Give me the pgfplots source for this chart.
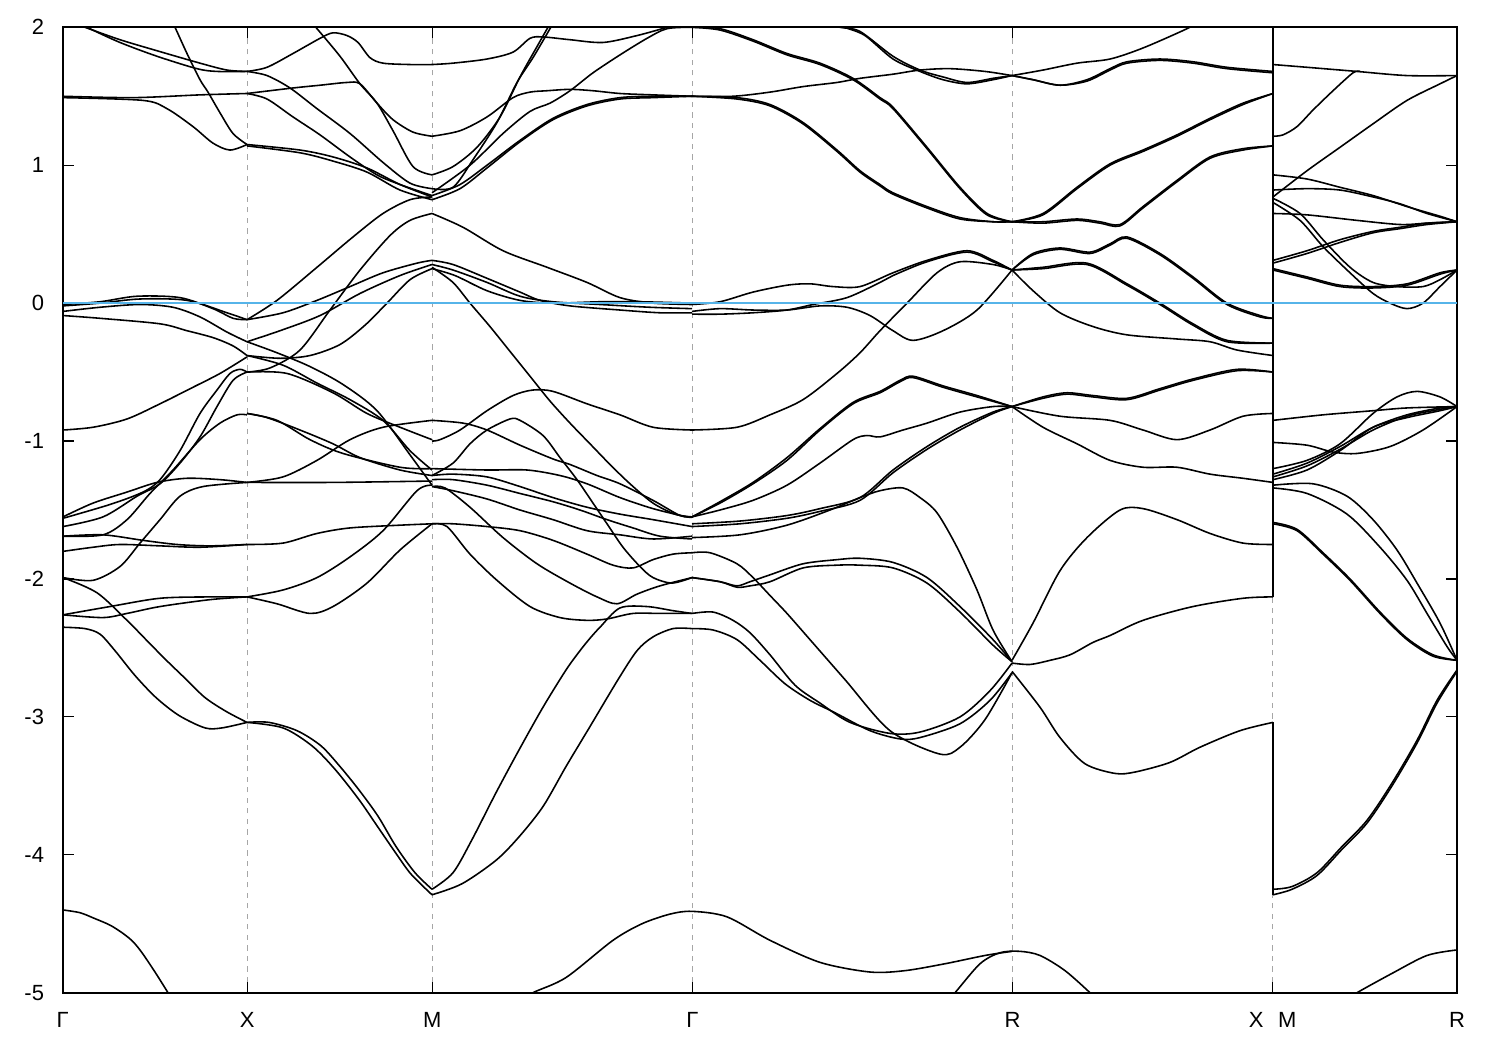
\documentclass[border=0pt]{standalone}
\usepackage{fontspec}
\setmainfont{Liberation Sans}
\usepackage{pgfplots}
\pgfplotsset{compat=1.18}
\definecolor{fermi}{RGB}{86,180,233}
\pgfplotsset{band/.style={black, line width=0.9pt, smooth, tension=0.5, no markers}}
\begin{document}
\begin{tikzpicture}
\useasboundingbox (-12.54mm,-11.46mm) rectangle (287.46mm,198.54mm);
\begin{axis}[
  at={(0,0)}, anchor=south west,
  width=278.86mm, height=193.08mm, scale only axis,
  xmin=62.7, xmax=1457, ymin=-5, ymax=2,
  xtick={62.7,247.3,432.3,692.5,1012.5,1272.7,1457},
  xticklabels={Γ,X,M,Γ,R,X\hspace{2.9mm}M,R},
  ytick={-5,-4,-3,-2,-1,0,1,2},
  yticklabels={-5,-4,-3,-2,-1,0,1,2},
  tick align=inside,
  major tick length=2.2mm,
  xmajorgrids,
  grid style={dashed, gray!70, line width=0.5pt},
  axis line style={line width=1.2pt},
  every tick/.style={black, line width=0.7pt},
  ticklabel style={font=\fontsize{12.5}{14}\selectfont},
  yticklabel style={xshift=-2.5mm},
  xticklabel style={yshift=-2.6mm},
  clip=true,
]
% ---------------- Gamma - X ----------------
\addplot[band] coordinates {(78,2.02)(85,2.00)(120,1.91)(157,1.83)(200,1.74)(227,1.69)(247,1.68)};
\addplot[band] coordinates {(84,2.02)(90,1.99)(120,1.89)(157,1.79)(197,1.70)(217,1.68)(247,1.68)};
\addplot[band] coordinates {(173,2.02)(175,2.00)(187,1.81)(200,1.62)(208,1.53)(220,1.38)(233,1.23)(247,1.15)};
\addplot[band] coordinates {(63,1.50)(133,1.49)(200,1.51)(247,1.52)};
\addplot[band] coordinates {(63,1.49)(143,1.47)(167,1.41)(193,1.28)(213,1.16)(230,1.11)(247,1.15)};
\addplot[band] coordinates {(63,-0.01)(100,0.01)(137,0.05)(180,0.04)(213,-0.04)(233,-0.11)(247,-0.12)};
\addplot[band] coordinates {(63,-0.02)(100,0.00)(140,0.03)(187,0.02)(227,-0.07)(247,-0.12)};
\addplot[band] coordinates {(63,-0.06)(100,-0.03)(140,-0.01)(173,-0.03)(200,-0.10)(227,-0.21)(247,-0.28)};
\addplot[band] coordinates {(63,-0.09)(100,-0.11)(160,-0.15)(187,-0.20)(213,-0.25)(233,-0.31)(247,-0.38)};
\addplot[band] coordinates {(63,-0.92)(93,-0.90)(127,-0.84)(160,-0.73)(193,-0.61)(220,-0.51)(247,-0.39)};
\addplot[band] coordinates {(63,-1.55)(93,-1.45)(127,-1.37)(157,-1.30)(187,-1.27)(220,-1.28)(247,-1.30)};
\addplot[band] coordinates {(63,-1.56)(110,-1.46)(143,-1.37)(160,-1.28)(180,-1.07)(200,-0.80)(217,-0.63)(230,-0.51)(240,-0.48)(247,-0.50)};
\addplot[band] coordinates {(63,-1.62)(103,-1.55)(137,-1.40)(160,-1.31)(180,-1.16)(200,-0.97)(217,-0.75)(233,-0.56)(247,-0.50)};
\addplot[band] coordinates {(63,-1.69)(103,-1.68)(127,-1.57)(150,-1.38)(173,-1.21)(200,-0.99)(220,-0.87)(237,-0.81)(247,-0.81)};
\addplot[band] coordinates {(63,-1.69)(103,-1.68)(143,-1.72)(177,-1.75)(210,-1.76)(247,-1.75)};
\addplot[band] coordinates {(63,-1.80)(93,-1.77)(120,-1.75)(160,-1.76)(200,-1.77)(247,-1.75)};
\addplot[band] coordinates {(63,-1.99)(93,-2.01)(120,-1.91)(140,-1.74)(160,-1.57)(180,-1.40)(203,-1.33)(247,-1.30)};
\addplot[band] coordinates {(63,-1.99)(97,-2.10)(127,-2.30)(146,-2.44)(165,-2.58)(185,-2.72)(205,-2.86)(226,-2.96)(247,-3.04)};
\addplot[band] coordinates {(63,-2.35)(85,-2.36)(100,-2.40)(115,-2.52)(135,-2.70)(156,-2.86)(179,-2.99)(205,-3.08)(222,-3.08)(247,-3.04)};
\addplot[band] coordinates {(63,-2.26)(110,-2.20)(160,-2.14)(210,-2.13)(247,-2.13)};
\addplot[band] coordinates {(63,-2.26)(103,-2.28)(127,-2.25)(160,-2.20)(210,-2.15)(247,-2.13)};
\addplot[band] coordinates {(63,-4.40)(80,-4.42)(94,-4.46)(110,-4.51)(123,-4.57)(133,-4.63)(142,-4.71)(155,-4.85)(168,-5.00)(172,-5.05)};
% ---------------- X - M ----------------
\addplot[band] coordinates {(247,1.68)(267,1.71)(293,1.81)(320,1.92)(333,1.96)(347,1.94)(358,1.89)(370,1.78)(383,1.74)(410,1.73)(432,1.73)};
\addplot[band] coordinates {(247,1.68)(267,1.65)(290,1.56)(317,1.41)(350,1.23)(383,1.02)(410,0.87)(432,0.83)};
\addplot[band] coordinates {(247,1.52)(293,1.56)(320,1.58)(347,1.60)(360,1.59)(377,1.45)(393,1.33)(413,1.24)(432,1.21)};
\addplot[band] coordinates {(247,1.52)(267,1.48)(293,1.35)(320,1.22)(350,1.06)(377,0.93)(400,0.86)(432,0.78)};
\addplot[band] coordinates {(313,2.02)(317,1.99)(340,1.79)(360,1.59)(377,1.45)(393,1.25)(413,0.99)(432,0.93)};
\addplot[band] coordinates {(247,1.15)(300,1.11)(333,1.06)(367,0.98)(400,0.86)(432,0.77)};
\addplot[band] coordinates {(247,1.14)(300,1.09)(333,1.03)(367,0.95)(400,0.82)(432,0.75)};
\addplot[band] coordinates {(247,-0.12)(277,0.02)(317,0.26)(353,0.48)(383,0.65)(410,0.75)(432,0.77)};
\addplot[band] coordinates {(247,-0.12)(283,-0.07)(317,0.02)(350,0.12)(383,0.22)(417,0.29)(432,0.31)};
\addplot[band] coordinates {(247,-0.28)(280,-0.20)(320,-0.09)(360,0.07)(400,0.20)(432,0.28)};
\addplot[band] coordinates {(247,-0.38)(280,-0.40)(310,-0.38)(340,-0.30)(365,-0.16)(387,0.00)(410,0.17)(432,0.25)};
\addplot[band] coordinates {(247,-0.50)(270,-0.47)(300,-0.34)(330,-0.05)(360,0.24)(390,0.49)(410,0.60)(432,0.65)};
\addplot[band] coordinates {(247,-0.28)(277,-0.36)(310,-0.46)(343,-0.59)(377,-0.78)(410,-1.10)(432,-1.32)};
\addplot[band] coordinates {(247,-0.38)(283,-0.45)(317,-0.58)(350,-0.70)(383,-0.85)(410,-1.07)(432,-1.21)};
\addplot[band] coordinates {(247,-0.50)(287,-0.51)(333,-0.65)(367,-0.80)(400,-0.90)(432,-0.99)};
\addplot[band] coordinates {(247,-0.80)(267,-0.83)(300,-0.92)(333,-1.02)(360,-1.12)(400,-1.21)(432,-1.25)};
\addplot[band] coordinates {(247,-0.80)(277,-0.85)(310,-0.99)(343,-1.09)(400,-1.19)(432,-1.20)};
\addplot[band] coordinates {(247,-1.30)(283,-1.26)(317,-1.14)(350,-0.99)(383,-0.90)(432,-0.85)};
\addplot[band] coordinates {(247,-1.30)(333,-1.30)(432,-1.29)};
\addplot[band] coordinates {(247,-1.75)(283,-1.74)(317,-1.67)(350,-1.63)(400,-1.61)(432,-1.60)};
\addplot[band] coordinates {(247,-2.13)(283,-2.08)(317,-1.99)(350,-1.84)(383,-1.65)(417,-1.36)(432,-1.32)};
\addplot[band] coordinates {(247,-2.13)(277,-2.18)(310,-2.25)(333,-2.20)(367,-2.03)(400,-1.79)(432,-1.60)};
\addplot[band] coordinates {(247,-3.04)(269,-3.04)(297,-3.10)(321,-3.21)(340,-3.36)(359,-3.53)(378,-3.72)(396,-3.94)(415,-4.13)(432,-4.25)};
\addplot[band] coordinates {(247,-3.04)(283,-3.08)(312,-3.21)(335,-3.38)(359,-3.60)(378,-3.80)(396,-3.99)(411,-4.14)(432,-4.29)};
% ---------------- M - Gamma ----------------
\addplot[band] coordinates {(432,1.73)(453,1.74)(487,1.77)(513,1.82)(530,1.92)(543,1.93)(570,1.91)(603,1.89)(637,1.94)(667,2.00)(680,2.03)};
\addplot[band] coordinates {(432,1.21)(460,1.25)(487,1.35)(513,1.49)(530,1.53)(547,1.54)(570,1.55)(593,1.54)(620,1.52)(653,1.51)(692,1.50)};
\addplot[band] coordinates {(432,0.93)(453,0.99)(477,1.13)(500,1.35)(520,1.64)(537,1.86)(548,2.00)(552,2.04)};
\addplot[band] coordinates {(432,0.83)(453,0.84)(473,1.04)(497,1.31)(517,1.60)(533,1.78)(550,1.99)(553,2.03)};
\addplot[band] coordinates {(432,0.80)(470,1.00)(503,1.23)(530,1.39)(550,1.45)(570,1.54)(593,1.67)(620,1.80)(647,1.92)(667,1.99)(692,2.00)};
\addplot[band] coordinates {(432,0.78)(460,0.86)(487,1.00)(520,1.18)(553,1.34)(587,1.44)(620,1.49)(653,1.50)(692,1.50)};
\addplot[band] coordinates {(432,0.75)(460,0.83)(487,0.98)(520,1.17)(553,1.33)(587,1.43)(620,1.48)(653,1.49)(692,1.50)};
\addplot[band] coordinates {(432,0.65)(463,0.55)(503,0.38)(547,0.26)(587,0.15)(620,0.04)(653,0.00)(692,-0.01)};
\addplot[band] coordinates {(432,0.31)(453,0.28)(487,0.18)(520,0.08)(540,0.02)(570,-0.02)(620,-0.05)(660,-0.07)(692,-0.07)};
\addplot[band] coordinates {(432,0.28)(453,0.24)(487,0.15)(520,0.05)(553,0.01)(600,-0.01)(650,-0.03)(692,-0.04)};
\addplot[band] coordinates {(432,0.25)(455,0.20)(487,0.09)(520,0.02)(553,0.00)(600,0.01)(640,0.01)(692,0.00)};
\addplot[band] coordinates {(432,0.26)(453,0.15)(470,0.00)(490,-0.17)(510,-0.35)(530,-0.53)(550,-0.71)(570,-0.87)(590,-1.02)(610,-1.17)(630,-1.31)(653,-1.45)(675,-1.53)(692,-1.55)};
\addplot[band] coordinates {(432,-0.85)(463,-0.87)(487,-0.92)(520,-1.03)(553,-1.13)(570,-1.17)(597,-1.25)(620,-1.31)(653,-1.43)(680,-1.54)(692,-1.55)};
\addplot[band] coordinates {(432,-1.00)(440,-0.99)(460,-0.92)(487,-0.78)(513,-0.67)(533,-0.63)(553,-0.64)(587,-0.73)(620,-0.81)(653,-0.90)(692,-0.92)};
\addplot[band] coordinates {(432,-1.25)(453,-1.16)(470,-1.02)(487,-0.92)(510,-0.84)(520,-0.85)(543,-0.96)(560,-1.12)(577,-1.28)(593,-1.45)(607,-1.60)(623,-1.77)(640,-1.91)(653,-1.99)(672,-2.03)(692,-1.99)};
\addplot[band] coordinates {(432,-1.20)(487,-1.21)(527,-1.21)(560,-1.25)(587,-1.31)(620,-1.41)(653,-1.49)(687,-1.55)(692,-1.55)};
\addplot[band] coordinates {(432,-1.25)(453,-1.24)(487,-1.26)(520,-1.33)(553,-1.41)(587,-1.48)(620,-1.53)(653,-1.57)(692,-1.62)};
\addplot[band] coordinates {(432,-1.28)(453,-1.28)(487,-1.32)(520,-1.38)(553,-1.44)(580,-1.50)(607,-1.57)(633,-1.63)(660,-1.69)(692,-1.71)};
\addplot[band] coordinates {(432,-1.33)(453,-1.36)(487,-1.42)(520,-1.50)(553,-1.57)(587,-1.65)(620,-1.68)(653,-1.71)(692,-1.69)};
\addplot[band] coordinates {(432,-1.33)(445,-1.34)(470,-1.48)(503,-1.70)(537,-1.89)(570,-2.03)(597,-2.13)(617,-2.18)(637,-2.11)(660,-2.05)(692,-1.99)};
\addplot[band] coordinates {(432,-1.60)(453,-1.60)(487,-1.62)(520,-1.65)(553,-1.72)(587,-1.82)(613,-1.90)(633,-1.92)(653,-1.86)(673,-1.82)(692,-1.81)};
\addplot[band] coordinates {(432,-1.60)(447,-1.62)(470,-1.82)(497,-2.01)(530,-2.20)(560,-2.28)(587,-2.30)(607,-2.29)(633,-2.25)(660,-2.25)(692,-2.25)};
\addplot[band] coordinates {(432,-4.25)(453,-4.13)(472,-3.89)(496,-3.55)(519,-3.24)(543,-2.93)(566,-2.66)(580,-2.52)(590,-2.43)(600,-2.35)(620,-2.21)(647,-2.20)(673,-2.23)(692,-2.25)};
\addplot[band] coordinates {(432,-4.29)(462,-4.21)(496,-4.04)(519,-3.87)(543,-3.65)(566,-3.36)(590,-3.07)(618,-2.73)(637,-2.52)(653,-2.42)(673,-2.36)(692,-2.36)};
\addplot[band] coordinates {(527,-5.05)(533,-5.00)(566,-4.89)(613,-4.62)(642,-4.50)(670,-4.43)(692,-4.41)(727,-4.45)(770,-4.62)(820,-4.78)(870,-4.85)(905,-4.84)(945,-4.79)(985,-4.73)(1012,-4.70)};
% ---------------- Gamma - R ----------------
\addplot[band] coordinates {(692,2.00)(720,1.99)(753,1.91)(787,1.81)(820,1.74)(853,1.63)(880,1.49)(893,1.42)(927,1.13)(960,0.84)(987,0.65)(1012,0.59)};
\addplot[band] coordinates {(692,2.00)(720,1.98)(753,1.90)(787,1.80)(820,1.73)(853,1.62)(880,1.48)(893,1.41)(927,1.12)(960,0.83)(987,0.64)(1012,0.59)};
\addplot[band] coordinates {(835,2.03)(840,2.00)(860,1.97)(893,1.79)(920,1.69)(943,1.64)(967,1.60)(993,1.63)(1012,1.65)};
\addplot[band] coordinates {(842,2.03)(845,2.00)(865,1.94)(893,1.77)(920,1.68)(943,1.62)(967,1.59)(993,1.62)(1012,1.65)};
\addplot[band] coordinates {(692,1.50)(733,1.50)(770,1.53)(803,1.57)(837,1.60)(860,1.63)(893,1.66)(920,1.69)(950,1.70)(985,1.68)(1012,1.65)};
\addplot[band] coordinates {(692,1.50)(737,1.49)(770,1.44)(803,1.31)(837,1.11)(860,0.96)(880,0.86)(893,0.80)(927,0.70)(960,0.62)(993,0.59)(1012,0.59)};
\addplot[band] coordinates {(692,1.50)(737,1.48)(770,1.43)(803,1.30)(837,1.10)(860,0.95)(880,0.85)(893,0.79)(927,0.69)(960,0.61)(993,0.59)(1012,0.59)};
\addplot[band] coordinates {(692,-0.01)(720,0.01)(753,0.08)(787,0.13)(810,0.14)(833,0.12)(860,0.12)(893,0.22)(927,0.31)(967,0.38)(993,0.31)(1012,0.24)};
\addplot[band] coordinates {(692,-0.08)(720,-0.08)(753,-0.07)(787,-0.05)(813,-0.01)(847,0.04)(880,0.15)(893,0.20)(927,0.30)(967,0.37)(993,0.30)(1012,0.24)};
\addplot[band] coordinates {(692,-0.06)(720,-0.04)(753,-0.05)(787,-0.05)(820,-0.02)(847,-0.03)(870,-0.09)(893,-0.20)(913,-0.27)(943,-0.20)(977,-0.05)(1012,0.24)};
\addplot[band] coordinates {(692,-0.92)(737,-0.90)(770,-0.81)(803,-0.70)(837,-0.51)(860,-0.36)(880,-0.20)(907,0.00)(937,0.22)(960,0.30)(993,0.28)(1012,0.24)};
\addplot[band] coordinates {(692,-1.55)(720,-1.45)(753,-1.31)(787,-1.14)(820,-0.92)(853,-0.73)(880,-0.65)(900,-0.57)(913,-0.54)(943,-0.61)(977,-0.68)(1012,-0.75)};
\addplot[band] coordinates {(692,-1.55)(720,-1.44)(753,-1.30)(787,-1.12)(820,-0.91)(853,-0.72)(880,-0.64)(900,-0.56)(913,-0.53)(943,-0.60)(977,-0.67)(1012,-0.75)};
\addplot[band] coordinates {(692,-1.55)(720,-1.50)(753,-1.43)(787,-1.32)(820,-1.16)(853,-0.99)(867,-0.96)(880,-0.97)(903,-0.92)(927,-0.87)(960,-0.79)(993,-0.75)(1012,-0.75)};
\addplot[band] coordinates {(692,-1.60)(740,-1.58)(787,-1.54)(820,-1.49)(860,-1.41)(893,-1.21)(927,-1.04)(960,-0.90)(993,-0.79)(1012,-0.75)};
\addplot[band] coordinates {(692,-1.62)(740,-1.60)(787,-1.56)(820,-1.51)(860,-1.43)(893,-1.23)(927,-1.06)(960,-0.92)(993,-0.80)(1012,-0.75)};
\addplot[band] coordinates {(692,-1.70)(740,-1.68)(787,-1.61)(830,-1.50)(860,-1.41)(880,-1.36)(903,-1.34)(920,-1.41)(937,-1.52)(957,-1.77)(977,-2.08)(993,-2.37)(1012,-2.60)};
\addplot[band] coordinates {(692,-2.25)(713,-2.24)(733,-2.30)(750,-2.39)(770,-2.55)(795,-2.77)(820,-2.90)(850,-3.04)(890,-3.12)(920,-3.11)(960,-3.00)(990,-2.81)(1012,-2.61)};
\addplot[band] coordinates {(692,-2.36)(713,-2.37)(737,-2.44)(760,-2.59)(785,-2.76)(810,-2.88)(835,-2.97)(870,-3.10)(900,-3.16)(920,-3.15)(960,-3.05)(990,-2.88)(1012,-2.68)};
\addplot[band] coordinates {(692,-1.81)(710,-1.81)(737,-1.89)(753,-1.99)(770,-2.12)(787,-2.25)(810,-2.44)(845,-2.73)(890,-3.10)(940,-3.27)(960,-3.22)(985,-3.02)(1012,-2.68)};
\addplot[band] coordinates {(692,-1.99)(720,-2.02)(737,-2.05)(750,-2.02)(770,-1.97)(803,-1.89)(837,-1.86)(860,-1.85)(893,-1.88)(927,-1.99)(960,-2.20)(993,-2.44)(1012,-2.60)};
\addplot[band] coordinates {(692,-1.99)(720,-2.02)(737,-2.06)(750,-2.05)(770,-2.02)(803,-1.92)(837,-1.90)(860,-1.90)(893,-1.92)(927,-2.03)(960,-2.24)(993,-2.48)(1012,-2.60)};
\addplot[band] coordinates {(950,-5.03)(955,-5.00)(980,-4.79)(1000,-4.71)(1020,-4.70)(1040,-4.73)(1065,-4.84)(1090,-5.00)(1094,-5.03)};
% ---------------- R - X ----------------
\addplot[band] coordinates {(1012,1.65)(1043,1.69)(1077,1.74)(1110,1.77)(1143,1.85)(1187,1.99)(1195,2.03)};
\addplot[band] coordinates {(1012,1.65)(1033,1.62)(1060,1.58)(1087,1.62)(1110,1.70)(1127,1.75)(1160,1.77)(1193,1.75)(1227,1.71)(1273,1.68)};
\addplot[band] coordinates {(1012,1.65)(1033,1.62)(1060,1.58)(1087,1.61)(1110,1.69)(1127,1.74)(1160,1.76)(1193,1.74)(1227,1.70)(1273,1.67)};
\addplot[band] coordinates {(1012,0.59)(1043,0.65)(1077,0.84)(1110,1.01)(1143,1.11)(1177,1.22)(1210,1.34)(1243,1.45)(1273,1.52)};
\addplot[band] coordinates {(1012,0.59)(1043,0.64)(1077,0.83)(1110,1.00)(1143,1.10)(1177,1.21)(1210,1.33)(1243,1.44)(1273,1.52)};
\addplot[band] coordinates {(1012,0.59)(1043,0.59)(1077,0.61)(1100,0.59)(1120,0.57)(1143,0.70)(1177,0.89)(1210,1.06)(1243,1.12)(1273,1.14)};
\addplot[band] coordinates {(1012,0.59)(1043,0.58)(1077,0.60)(1100,0.58)(1120,0.56)(1143,0.69)(1177,0.88)(1210,1.05)(1243,1.11)(1273,1.14)};
\addplot[band] coordinates {(1012,0.24)(1033,0.36)(1060,0.40)(1090,0.37)(1110,0.43)(1127,0.48)(1160,0.36)(1193,0.19)(1227,0.00)(1260,-0.09)(1273,-0.11)};
\addplot[band] coordinates {(1012,0.24)(1033,0.35)(1060,0.39)(1090,0.36)(1110,0.42)(1127,0.47)(1160,0.35)(1193,0.18)(1227,-0.01)(1260,-0.10)(1273,-0.11)};
\addplot[band] coordinates {(1012,0.24)(1043,0.26)(1087,0.29)(1127,0.14)(1160,0.00)(1193,-0.15)(1227,-0.27)(1273,-0.29)};
\addplot[band] coordinates {(1012,0.24)(1043,0.25)(1087,0.28)(1127,0.13)(1160,-0.01)(1193,-0.16)(1227,-0.28)(1273,-0.29)};
\addplot[band] coordinates {(1012,0.24)(1033,0.09)(1060,-0.07)(1093,-0.17)(1127,-0.23)(1177,-0.26)(1210,-0.28)(1237,-0.34)(1273,-0.38)};
\addplot[band] coordinates {(1012,-0.75)(1043,-0.68)(1067,-0.65)(1093,-0.67)(1127,-0.69)(1160,-0.62)(1193,-0.55)(1237,-0.48)(1273,-0.50)};
\addplot[band] coordinates {(1012,-0.75)(1043,-0.69)(1067,-0.66)(1093,-0.68)(1127,-0.70)(1160,-0.63)(1193,-0.56)(1237,-0.49)(1273,-0.50)};
\addplot[band] coordinates {(1012,-0.75)(1060,-0.82)(1110,-0.85)(1143,-0.92)(1177,-0.99)(1210,-0.92)(1243,-0.82)(1273,-0.80)};
\addplot[band] coordinates {(1012,-0.75)(1043,-0.90)(1077,-1.02)(1110,-1.14)(1143,-1.19)(1177,-1.19)(1210,-1.24)(1243,-1.27)(1273,-1.30)};
\addplot[band] coordinates {(1012,-2.59)(1033,-2.32)(1060,-1.94)(1087,-1.70)(1120,-1.50)(1143,-1.49)(1177,-1.57)(1210,-1.67)(1243,-1.74)(1273,-1.75)};
\addplot[band] coordinates {(1012,-2.61)(1030,-2.62)(1050,-2.59)(1070,-2.55)(1093,-2.46)(1110,-2.41)(1143,-2.30)(1193,-2.20)(1243,-2.14)(1273,-2.13)};
\addplot[band] coordinates {(1012,-2.67)(1040,-2.93)(1060,-3.15)(1085,-3.34)(1115,-3.41)(1135,-3.40)(1170,-3.33)(1200,-3.22)(1240,-3.10)(1273,-3.04)};
% ---------------- jump X | M ----------------
\addplot[black, line width=0.9pt] coordinates {(1273,2.05)(1273,-2.13)};
\addplot[black, line width=0.9pt] coordinates {(1273,-3.04)(1273,-4.29)};
% ---------------- M - R ----------------
\addplot[band] coordinates {(1273,1.73)(1307,1.71)(1357,1.68)(1407,1.65)(1457,1.65)};
\addplot[band] coordinates {(1273,1.21)(1283,1.22)(1297,1.28)(1313,1.40)(1333,1.54)(1353,1.67)(1360,1.68)};
\addplot[band] coordinates {(1273,0.77)(1307,0.96)(1340,1.13)(1373,1.30)(1407,1.47)(1440,1.59)(1457,1.65)};
\addplot[band] coordinates {(1273,0.93)(1307,0.90)(1340,0.84)(1373,0.78)(1407,0.70)(1440,0.63)(1457,0.59)};
\addplot[band] coordinates {(1273,0.82)(1307,0.83)(1340,0.82)(1373,0.77)(1400,0.72)(1427,0.65)(1457,0.59)};
\addplot[band] coordinates {(1273,0.76)(1300,0.65)(1323,0.46)(1350,0.26)(1373,0.15)(1397,0.12)(1423,0.12)(1440,0.17)(1457,0.24)};
\addplot[band] coordinates {(1273,0.73)(1300,0.60)(1323,0.41)(1350,0.22)(1373,0.07)(1390,0.00)(1407,-0.04)(1423,0.00)(1440,0.12)(1457,0.24)};
\addplot[band] coordinates {(1273,0.65)(1307,0.64)(1357,0.60)(1400,0.57)(1427,0.58)(1457,0.59)};
\addplot[band] coordinates {(1273,0.31)(1307,0.38)(1340,0.46)(1373,0.52)(1400,0.55)(1427,0.58)(1457,0.59)};
\addplot[band] coordinates {(1273,0.29)(1307,0.36)(1340,0.44)(1373,0.51)(1400,0.54)(1427,0.57)(1457,0.59)};
\addplot[band] coordinates {(1273,0.25)(1307,0.19)(1340,0.13)(1373,0.12)(1407,0.14)(1440,0.22)(1457,0.24)};
\addplot[band] coordinates {(1273,0.24)(1307,0.18)(1340,0.12)(1373,0.11)(1407,0.13)(1440,0.21)(1457,0.24)};
\addplot[band] coordinates {(1273,-0.85)(1323,-0.81)(1373,-0.78)(1407,-0.76)(1457,-0.75)};
\addplot[band] coordinates {(1273,-1.01)(1307,-1.03)(1333,-1.08)(1357,-1.09)(1390,-1.04)(1423,-0.92)(1457,-0.75)};
\addplot[band] coordinates {(1273,-1.20)(1307,-1.14)(1340,-1.02)(1373,-0.80)(1397,-0.68)(1417,-0.64)(1440,-0.68)(1457,-0.75)};
\addplot[band] coordinates {(1273,-1.24)(1307,-1.16)(1340,-1.04)(1373,-0.90)(1407,-0.81)(1440,-0.76)(1457,-0.75)};
\addplot[band] coordinates {(1273,-1.26)(1307,-1.18)(1340,-1.06)(1373,-0.92)(1407,-0.82)(1440,-0.77)(1457,-0.75)};
\addplot[band] coordinates {(1273,-1.28)(1307,-1.21)(1340,-1.07)(1373,-0.90)(1407,-0.83)(1440,-0.78)(1457,-0.75)};
\addplot[band] coordinates {(1273,-1.32)(1313,-1.31)(1347,-1.40)(1373,-1.57)(1397,-1.79)(1417,-2.03)(1440,-2.32)(1457,-2.59)};
\addplot[band] coordinates {(1273,-1.34)(1307,-1.38)(1347,-1.53)(1380,-1.77)(1407,-2.01)(1427,-2.25)(1447,-2.49)(1457,-2.59)};
\addplot[band] coordinates {(1273,-1.60)(1297,-1.65)(1323,-1.82)(1350,-2.01)(1380,-2.25)(1407,-2.44)(1433,-2.56)(1457,-2.59)};
\addplot[band] coordinates {(1273,-1.59)(1297,-1.64)(1323,-1.81)(1350,-2.00)(1380,-2.24)(1407,-2.43)(1433,-2.55)(1457,-2.59)};
\addplot[band] coordinates {(1273,-4.25)(1292,-4.23)(1317,-4.13)(1342,-3.94)(1367,-3.75)(1392,-3.48)(1417,-3.17)(1437,-2.88)(1457,-2.66)};
\addplot[band] coordinates {(1273,-4.29)(1292,-4.25)(1317,-4.15)(1342,-3.96)(1367,-3.77)(1392,-3.50)(1417,-3.19)(1437,-2.90)(1457,-2.67)};
\addplot[band] coordinates {(1350,-5.04)(1357,-5.00)(1392,-4.86)(1427,-4.73)(1457,-4.69)};
% ---------------- Fermi level ----------------
\addplot[fermi, line width=1.1pt] coordinates {(62.7,0)(1457,0)};
\end{axis}
\end{tikzpicture}
\end{document}
